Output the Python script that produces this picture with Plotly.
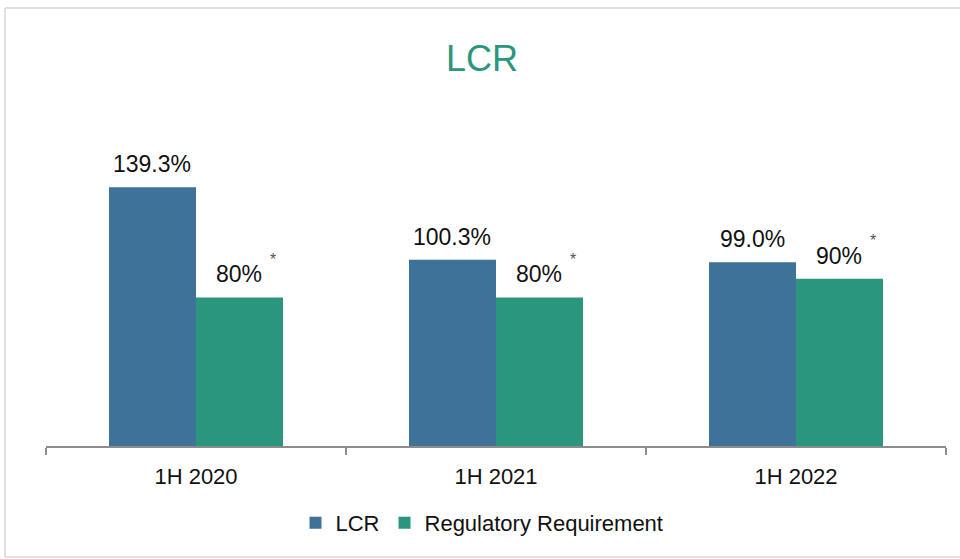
import plotly.graph_objects as go

categories = ["1H 2020", "1H 2021", "1H 2022"]
lcr_values = [139.3, 100.3, 99.0]
req_values = [80, 80, 90]
lcr_labels = ["139.3%", "100.3%", "99.0%"]
req_labels = ["80%", "80%", "90%"]
series_names = ["LCR", "Regulatory Requirement"]

C_LCR = "#3F7299"
C_REQ = "#2A967E"
FONT = "Liberation Sans, Arial, sans-serif"

W, H = 960, 559
L, R, T, B = 46, 14, 167, 113
PW, PH = W - L - R, H - T - B

fig = go.Figure()
fig.add_trace(go.Bar(x=categories, y=lcr_values, name=series_names[0],
                     marker=dict(color=C_LCR, line=dict(width=0))))
fig.add_trace(go.Bar(x=categories, y=req_values, name=series_names[1],
                     marker=dict(color=C_REQ, line=dict(width=0))))

annotations = []
for c, v, t in zip(categories, lcr_values, lcr_labels):
    annotations.append(dict(x=c, y=v, text=t, xshift=-44, yshift=8, showarrow=False,
                            yanchor="bottom", font=dict(size=23, color="#111111", family=FONT)))
for c, v, t in zip(categories, req_values, req_labels):
    annotations.append(dict(x=c, y=v, text=t, xshift=43, yshift=8, showarrow=False,
                            yanchor="bottom", font=dict(size=23, color="#111111", family=FONT)))
    annotations.append(dict(x=c, y=v, text="*", xshift=77, yshift=38, showarrow=False,
                            yanchor="middle", font=dict(size=16, color="#555555", family=FONT)))

def px_x(p):
    return (p - L) / PW

def px_y(p):
    return (H - B - p) / PH

border = dict(color="#D6D6D6", width=1.5)
shapes = [
    dict(type="line", xref="paper", yref="paper", x0=px_x(5), x1=px_x(960), y0=px_y(8), y1=px_y(8), line=border, layer="below"),
    dict(type="line", xref="paper", yref="paper", x0=px_x(5), x1=px_x(5), y0=px_y(8), y1=px_y(557), line=border, layer="below"),
    dict(type="line", xref="paper", yref="paper", x0=px_x(5), x1=px_x(960), y0=px_y(557), y1=px_y(557), line=border, layer="below"),
]

fig.update_layout(
    width=W, height=H,
    margin=dict(l=L, r=R, t=T, b=B),
    paper_bgcolor="white", plot_bgcolor="white",
    font=dict(family=FONT, size=22, color="#111111"),
    title=dict(text="LCR", x=0.502, xanchor="center", y=1 - 58 / H, yanchor="middle",
               font=dict(size=36, color="#2A967E", family=FONT)),
    barmode="group", bargap=0.42, bargroupgap=0,
    xaxis=dict(type="category", showline=True, linecolor="#8C8C8C", linewidth=2,
               ticks="outside", tickson="boundaries", ticklen=7, tickcolor="#8C8C8C",
               tickwidth=2, showgrid=False, tickfont=dict(size=22, color="#111111"),
               ticklabelstandoff=10),
    yaxis=dict(range=[0, PH / 1.857], visible=False, showgrid=False, zeroline=False),
    legend=dict(orientation="h", x=px_x(482), xanchor="center", y=px_y(523), yanchor="middle",
                font=dict(size=22, color="#111111"), itemwidth=30, traceorder="normal"),
    annotations=annotations,
    shapes=shapes,
)

fig.write_html("out.html", config={"displayModeBar": False},
               post_script="document.body.style.margin='0';document.body.style.overflow='hidden';")
